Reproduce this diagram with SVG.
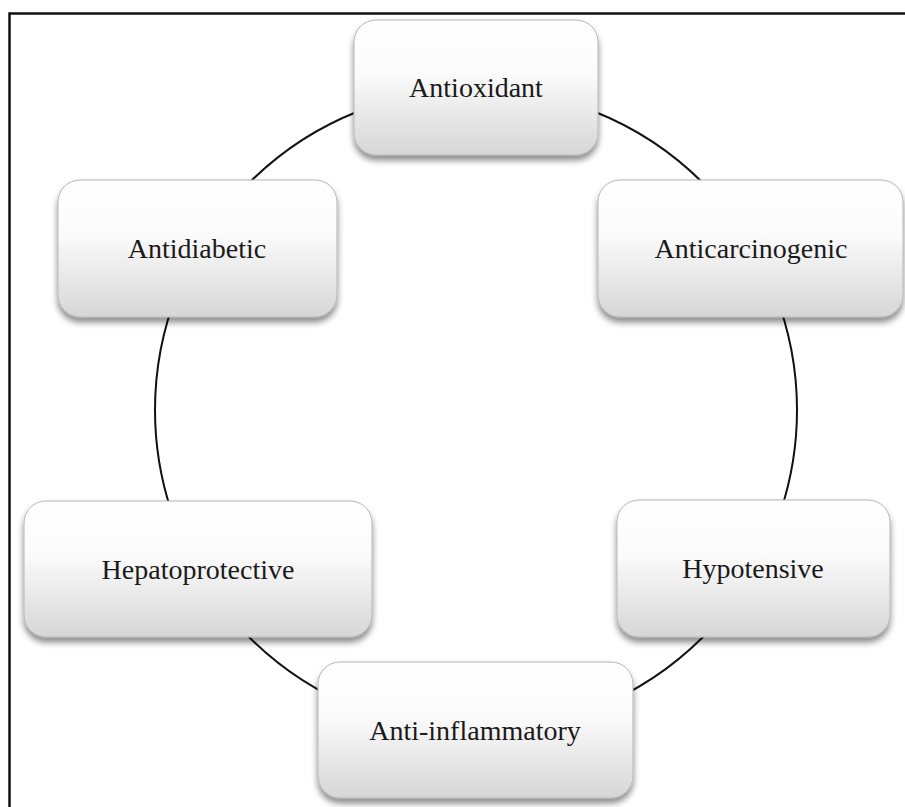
<svg xmlns="http://www.w3.org/2000/svg" width="905" height="807" viewBox="0 0 905 807">
  <defs>
    <linearGradient id="boxfill" x1="0" y1="0" x2="0" y2="1">
      <stop offset="0" stop-color="#ffffff"/>
      <stop offset="0.4" stop-color="#fbfbfb"/>
      <stop offset="1" stop-color="#d6d6d6"/>
    </linearGradient>
    <filter id="shadow" x="-10%" y="-10%" width="120%" height="130%">
      <feDropShadow dx="0" dy="5" stdDeviation="3" flood-color="#000" flood-opacity="0.45"/>
    </filter>
    <style>
      .box { fill: url(#boxfill); stroke: #b5b5b5; stroke-width: 1; filter: url(#shadow); }
      .lbl { font-family: "Liberation Serif", "Times New Roman", serif; font-size: 28px; fill: #1a1a1a; text-anchor: middle; }
      .conn { fill: none; stroke: #111; stroke-width: 2; }
      .frame { fill: none; stroke: #111; stroke-width: 2.5; }
    </style>
  </defs>
  <rect x="0" y="0" width="905" height="807" fill="#ffffff"/>
  <path class="frame" d="M9.5,830 L9.5,13.5 L930,13.5"/>
  <g id="connectors">
    <circle class="conn" cx="476" cy="410" r="321"/>
  </g>
  <g id="antioxidant">
    <rect class="box" x="354" y="20" width="244" height="135" rx="22"/>
    <text class="lbl" x="476" y="97">Antioxidant</text>
  </g>
  <g id="anticarcinogenic">
    <rect class="box" x="598" y="180" width="305" height="137" rx="22"/>
    <text class="lbl" x="751" y="258">Anticarcinogenic</text>
  </g>
  <g id="antidiabetic">
    <rect class="box" x="58" y="180" width="279" height="137" rx="22"/>
    <text class="lbl" x="197" y="258">Antidiabetic</text>
  </g>
  <g id="hepatoprotective">
    <rect class="box" x="24" y="501" width="348" height="136" rx="22"/>
    <text class="lbl" x="198" y="579">Hepatoprotective</text>
  </g>
  <g id="hypotensive">
    <rect class="box" x="617" y="500" width="273" height="137" rx="22"/>
    <text class="lbl" x="753" y="578">Hypotensive</text>
  </g>
  <g id="anti-inflammatory">
    <rect class="box" x="318" y="662" width="315" height="136" rx="22"/>
    <text class="lbl" x="475" y="740">Anti-inflammatory</text>
  </g>
</svg>
